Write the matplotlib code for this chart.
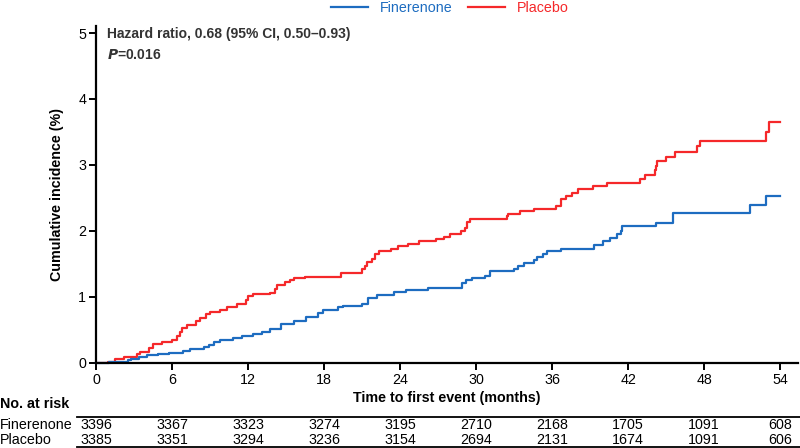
import numpy as np
import matplotlib.pyplot as plt
from matplotlib import transforms
from matplotlib.lines import Line2D

plt.rcParams['font.family'] = ['Liberation Sans', 'DejaVu Sans']

# step curves (time in months, cumulative incidence %)
fin_t = [0, 1.0, 2.5, 2.8, 3.4, 4.0, 4.9, 5.8, 6.9, 7.4, 8.5, 8.9, 9.3, 9.8, 10.8,
         11.5, 12.4, 13.1, 13.7, 14.6, 15.6, 16.6, 17.5, 17.9, 19.1, 19.5, 21.0,
         21.5, 22.2, 23.5, 24.5, 26.2, 28.9, 29.2, 29.7, 30.7, 31.1, 33.0, 33.3,
         33.8, 34.6, 34.8, 35.3, 35.6, 36.7, 39.3, 40.0, 40.6, 41.1, 41.4, 41.5,
         44.2, 45.5, 51.6, 52.9, 54.0]
fin_y = [0, 0.02, 0.04, 0.06, 0.09, 0.12, 0.13, 0.15, 0.18, 0.21, 0.24, 0.27, 0.32,
         0.35, 0.38, 0.40, 0.44, 0.47, 0.51, 0.59, 0.64, 0.70, 0.75, 0.80, 0.84,
         0.86, 0.90, 0.98, 1.03, 1.07, 1.11, 1.14, 1.21, 1.25, 1.28, 1.32, 1.39,
         1.43, 1.47, 1.52, 1.56, 1.61, 1.65, 1.70, 1.73, 1.79, 1.85, 1.90, 1.96,
         2.00, 2.07, 2.12, 2.27, 2.40, 2.53, 2.53]

pla_t = [0, 0.97, 1.5, 2.2, 3.2, 3.5, 4.2, 4.5, 5.2, 6.0, 6.4, 6.6, 6.8, 7.2, 7.9,
         8.2, 8.7, 9.0, 9.8, 10.3, 11.1, 11.8, 12.0, 12.4, 13.7, 14.1, 14.3, 14.9,
         15.3, 15.6, 16.5, 19.3, 21.0, 21.2, 21.4, 21.8, 22.0, 22.3, 23.3, 23.8,
         24.6, 25.5, 26.8, 27.5, 27.9, 28.8, 29.1, 29.3, 29.5, 32.4, 32.5, 33.5,
         34.6, 36.3, 36.7, 37.1, 37.6, 38.0, 39.2, 40.3, 42.9, 43.3, 44.1, 44.2,
         44.3, 45.0, 45.7, 47.4, 47.7, 52.9, 53.1, 54.0]
pla_y = [0, 0.02, 0.06, 0.09, 0.13, 0.17, 0.22, 0.28, 0.31, 0.35, 0.41, 0.47, 0.53,
         0.58, 0.64, 0.68, 0.74, 0.77, 0.80, 0.84, 0.89, 0.96, 1.01, 1.04, 1.06,
         1.12, 1.18, 1.22, 1.25, 1.28, 1.30, 1.37, 1.42, 1.47, 1.53, 1.58, 1.65,
         1.70, 1.73, 1.77, 1.80, 1.84, 1.88, 1.91, 1.95, 2.00, 2.04, 2.13, 2.18,
         2.22, 2.26, 2.30, 2.34, 2.38, 2.48, 2.53, 2.58, 2.63, 2.68, 2.73, 2.79,
         2.85, 2.92, 2.98, 3.06, 3.12, 3.20, 3.28, 3.37, 3.50, 3.65, 3.65]

risk_times = [0, 6, 12, 18, 24, 30, 36, 42, 48, 54]
fin_risk = [3396, 3367, 3323, 3274, 3195, 2710, 2168, 1705, 1091, 608]
pla_risk = [3385, 3351, 3294, 3236, 3154, 2694, 2131, 1674, 1091, 606]

blue = '#1d6cc0'
red = '#f5282a'
dark = '#333333'
fs = 10.3

fig = plt.figure(figsize=(8, 4.48), dpi=100)
ax = fig.add_axes([0.12, 0.19, 0.8775, 0.751])

ax.step(pla_t, pla_y, where='post', color=red, lw=1.6, label='Placebo')
ax.step(fin_t, fin_y, where='post', color=blue, lw=1.6, label='Finerenone', clip_on=False)

ax.set_xlim(0, 55.4)
ax.set_ylim(0, 5.1)
ax.set_xticks(risk_times)
ax.set_yticks(range(6))
for s in ['top', 'right']:
    ax.spines[s].set_visible(False)
for s in ['left', 'bottom']:
    ax.spines[s].set_linewidth(1.6)
    ax.spines[s].set_color('black')
ax.tick_params(direction='out', length=5, width=1.4, labelsize=fs, colors='black', pad=2)

ax.set_xlabel('Time to first event (months)', fontsize=fs, fontweight='bold', labelpad=3)
ax.set_ylabel('Cumulative incidence (%)', fontsize=fs, fontweight='bold', labelpad=10)

ax.text(0.9, 4.98, 'Hazard ratio, 0.68 (95% CI, 0.50\u20130.93)', fontsize=10,
        fontweight='bold', color=dark, va='center')
ax.text(0.9, 4.66, r'$\bfit{P}$=0.016', fontsize=10, fontweight='bold', color=dark, va='center')

# legend at the top
h = [Line2D([], [], color=blue, lw=1.6), Line2D([], [], color=red, lw=1.6)]
fig.legend(h, ['Finerenone', 'Placebo'], loc='center', bbox_to_anchor=(0.562, 0.983),
           ncol=2, frameon=False, fontsize=fs, handlelength=2.6, handletextpad=0.8,
           columnspacing=1.1, labelcolor=[blue, red], borderpad=0)

# number at risk table
tr = transforms.blended_transform_factory(ax.transData, fig.transFigure)
fig.text(0.0, 1 - 404 / 448, 'No. at risk', fontsize=fs, fontweight='bold', va='center')
y_fin = 1 - 424.5 / 448
y_pla = 1 - 439.5 / 448
fig.text(0.0, y_fin, 'Finerenone', fontsize=fs, va='center')
fig.text(0.0, y_pla, 'Placebo', fontsize=fs, va='center')
for t, a, b in zip(risk_times, fin_risk, pla_risk):
    ax.text(t, y_fin, str(a), transform=tr, ha='center', va='center', fontsize=fs, clip_on=False)
    ax.text(t, y_pla, str(b), transform=tr, ha='center', va='center', fontsize=fs, clip_on=False)
for yy in [1 - 417 / 448, 1 - 447 / 448]:
    fig.add_artist(Line2D([77 / 800, 1.0], [yy, yy], color='black', lw=1.3))

fig.savefig('out.png', dpi=100)
